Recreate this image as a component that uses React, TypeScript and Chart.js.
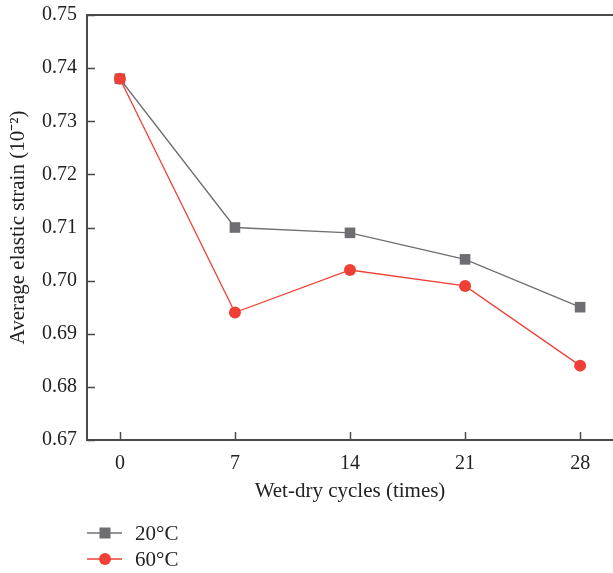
import React, { useEffect, useRef } from "react";
import { Chart, registerables } from "chart.js";

Chart.register(...registerables);

const cycles = [0, 7, 14, 21, 28];
const strain20 = [0.738, 0.71, 0.709, 0.704, 0.695];
const strain60 = [0.738, 0.694, 0.702, 0.699, 0.684];
const seriesNames = ["20°C", "60°C"];
const yTicks = [0.67, 0.68, 0.69, 0.7, 0.71, 0.72, 0.73, 0.74, 0.75];

const GRAY = "#6e6e72";
const GRAY_LINE = "#707070";
const RED = "#ee4036";
const AXIS = "#4a4a4a";
const FONT = "'Liberation Serif', 'Times New Roman', serif";

const framePlugin = {
  id: "frame",
  afterDraw(chart: any) {
    const { ctx, chartArea } = chart;
    const xs = chart.scales.x;
    const ys = chart.scales.y;
    ctx.save();
    ctx.strokeStyle = AXIS;
    ctx.lineWidth = 2;
    ctx.beginPath();
    ctx.moveTo(chartArea.left, chartArea.top);
    ctx.lineTo(chartArea.right, chartArea.top);
    ctx.stroke();
    ctx.lineWidth = 1.5;
    xs.ticks.forEach((t: any) => {
      const px = Math.round(xs.getPixelForValue(t.value)) + 0.5;
      ctx.beginPath();
      ctx.moveTo(px, chartArea.bottom);
      ctx.lineTo(px, chartArea.bottom - 8);
      ctx.stroke();
    });
    ys.ticks.forEach((t: any) => {
      const py = Math.round(ys.getPixelForValue(t.value)) + 0.5;
      ctx.beginPath();
      ctx.moveTo(chartArea.left, py);
      ctx.lineTo(chartArea.left + 8, py);
      ctx.stroke();
    });
    const items = [
      { label: seriesNames[0], color: GRAY_LINE, fill: GRAY, style: "rect", y: 533 },
      { label: seriesNames[1], color: RED, fill: RED, style: "circle", y: 559 },
    ];
    items.forEach((it) => {
      ctx.strokeStyle = it.color;
      ctx.lineWidth = 1.3;
      ctx.beginPath();
      ctx.moveTo(87, it.y);
      ctx.lineTo(122, it.y);
      ctx.stroke();
      ctx.fillStyle = it.fill;
      if (it.style === "rect") {
        ctx.fillRect(99.5, it.y - 5.5, 11, 11);
      } else {
        ctx.beginPath();
        ctx.arc(105, it.y, 6, 0, Math.PI * 2);
        ctx.fill();
      }
      ctx.fillStyle = "#222";
      ctx.font = `21px ${FONT}`;
      ctx.textBaseline = "middle";
      ctx.textAlign = "left";
      ctx.fillText(it.label, 135, it.y + 1);
    });
    ctx.restore();
  },
};

export default function App() {
  const ref = useRef<HTMLCanvasElement | null>(null);
  useEffect(() => {
    if (!ref.current) return;
    const chart = new Chart(ref.current, {
      type: "line",
      data: {
        labels: cycles,
        datasets: [
          {
            label: seriesNames[0],
            data: cycles.map((c, i) => ({ x: c, y: strain20[i] })),
            borderColor: GRAY_LINE,
            backgroundColor: GRAY,
            borderWidth: 1.3,
            pointStyle: "rect",
            pointRadius: 7.5,
            pointBorderWidth: 0,
            tension: 0,
            order: 2,
          },
          {
            label: seriesNames[1],
            data: cycles.map((c, i) => ({ x: c, y: strain60[i] })),
            borderColor: RED,
            backgroundColor: RED,
            borderWidth: 1.3,
            pointStyle: "circle",
            pointRadius: 6,
            pointBorderWidth: 0,
            tension: 0,
            order: 1,
          },
        ],
      },
      options: {
        animation: false,
        responsive: false,
        layout: { autoPadding: false, padding: { left: 0, top: 15, right: 0, bottom: 69 } },
        plugins: { legend: { display: false }, tooltip: { enabled: false } },
        scales: {
          x: {
            type: "linear",
            min: -2,
            max: 30,
            afterBuildTicks: (s: any) => {
              s.ticks = cycles.map((v) => ({ value: v }));
            },
            afterFit: (s: any) => {
              s.height = 64;
              s.paddingLeft = 0;
              s.paddingRight = 0;
            },
            grid: { display: false, drawTicks: false },
            border: { color: AXIS, width: 2 },
            ticks: {
              color: "#222",
              font: { family: FONT, size: 20 },
              padding: 12,
              maxRotation: 0,
            },
            title: {
              display: true,
              text: "Wet-dry cycles (times)",
              color: "#222",
              font: { family: FONT, size: 21 },
              padding: { top: 0, bottom: 0 },
            },
          },
          y: {
            type: "linear",
            min: 0.67,
            max: 0.75,
            afterBuildTicks: (s: any) => {
              s.ticks = yTicks.map((v) => ({ value: v }));
            },
            afterFit: (s: any) => {
              s.width = 87;
              s.paddingTop = 0;
              s.paddingBottom = 0;
            },
            grid: { display: false, drawTicks: false },
            border: { color: AXIS, width: 2 },
            ticks: {
              color: "#222",
              font: { family: FONT, size: 20 },
              padding: 10,
              callback: (v: any) => Number(v).toFixed(2),
            },
            title: {
              display: true,
              text: "Average elastic strain (10⁻²)",
              color: "#222",
              font: { family: FONT, size: 21 },
              padding: { top: 6, bottom: 0 },
            },
          },
        },
      },
      plugins: [framePlugin],
    } as any);
    return () => chart.destroy();
  }, []);
  return (
    <div style={{ position: "absolute", left: 0, top: 0, width: 613, height: 573, background: "#fff" }}>
      <canvas ref={ref} width={613} height={573} style={{ width: 613, height: 573 }} />
    </div>
  );
}
